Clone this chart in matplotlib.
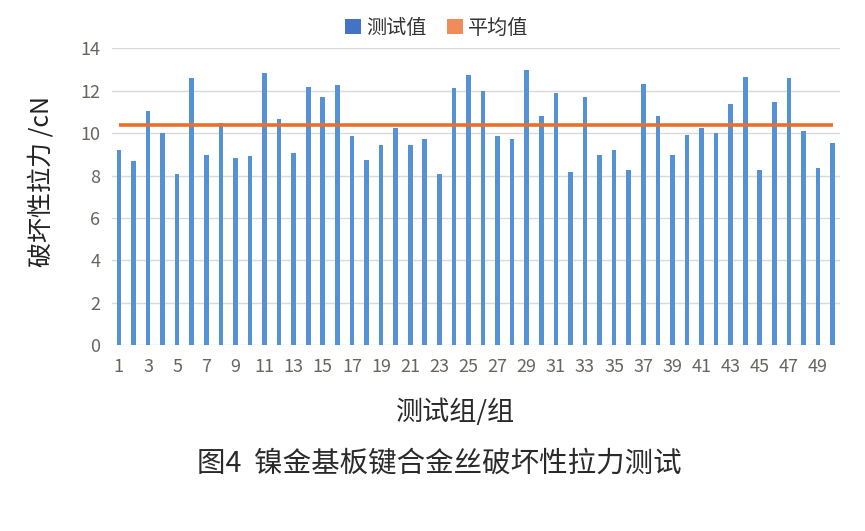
import matplotlib
matplotlib.use("Agg")
import matplotlib.pyplot as plt
from matplotlib.patches import Patch

plt.rcParams['font.family'] = ['Noto Sans CJK SC', 'DejaVu Sans']

groups = list(range(1, 51))
test_values = [9.22, 8.67, 11.05, 10.01, 8.09, 12.58, 8.99, 10.50, 8.81, 8.91,
               12.82, 10.67, 9.05, 12.17, 11.70, 12.27, 9.85, 8.75, 9.46, 10.26,
               9.46, 9.70, 8.09, 12.11, 12.75, 11.97, 9.85, 9.70, 12.97, 10.80,
               11.87, 8.15, 11.70, 8.97, 9.22, 8.25, 12.34, 10.80, 8.97, 9.93,
               10.26, 10.01, 11.38, 12.66, 8.25, 11.46, 12.58, 10.11, 8.34, 9.54]
average_values = [10.37] * 50
tick_labels = [str(i) for i in range(1, 51, 2)]

bar_color = '#5592D5'
line_color = '#E8702A'
tick_color = '#6A645E'

fig = plt.figure(figsize=(8.65, 5.31), dpi=100)
ax = fig.add_axes([0.129, 0.350, 0.842, 0.559])

ax.bar(groups, test_values, width=0.32, color=bar_color, zorder=2)
ax.plot(groups, average_values, color=line_color, linewidth=2.6, zorder=3,
        solid_capstyle='butt')

ax.set_xlim(0.5, 50.5)
ax.set_ylim(0, 14)
ax.set_yticks(range(0, 15, 2))
ax.set_xticks(list(range(1, 51, 2)))
ax.set_xticklabels(tick_labels)
ax.grid(axis='y', color='#D9D9D9', linewidth=1.0, zorder=0)
ax.set_axisbelow(True)
for s in ax.spines.values():
    s.set_visible(False)
ax.tick_params(axis='both', length=0, labelsize=13, colors=tick_color, pad=8)
ax.tick_params(axis='x', pad=9)

fig.text(0.048, 0.659, '破坏性拉力 /cN', rotation=90, ha='center', va='center',
         fontsize=18, color='#222222')
fig.text(0.527, 0.224, '测试组/组', ha='center', va='center', fontsize=19.5,
         color='#2a2a2a')
fig.text(0.508, 0.127, '图4  镍金基板键合金丝破坏性拉力测试', ha='center', va='center',
         fontsize=20.5, color='#2a2a2a')

handles = [Patch(facecolor='#4472C4', edgecolor='none', label='测试值'),
           Patch(facecolor='#F08C5A', edgecolor='none', label='平均值')]
leg = fig.legend(handles=handles, loc='center', bbox_to_anchor=(0.505, 0.947),
                 ncol=2, frameon=False, fontsize=14.5, handlelength=0.8,
                 handleheight=0.8, handletextpad=0.25, columnspacing=1.0)
for t in leg.get_texts():
    t.set_color('#333333')

fig.savefig('out.png', dpi=100)
